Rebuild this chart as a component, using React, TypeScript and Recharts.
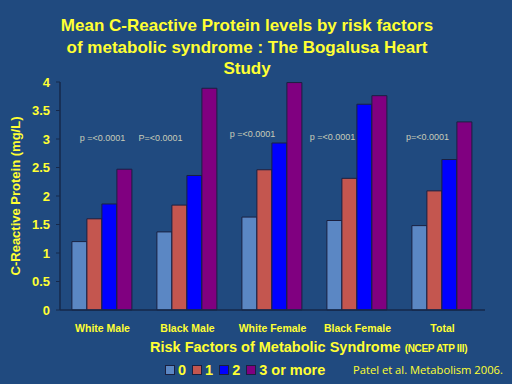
import { BarChart, Bar, XAxis, YAxis, ReferenceDot } from 'recharts'

const groups = ['White Male', 'Black Male', 'White Female', 'Black Female', 'Total']
const rf0 = [1.2, 1.37, 1.63, 1.57, 1.48]
const rf1 = [1.6, 1.84, 2.46, 2.31, 2.09]
const rf2 = [1.86, 2.36, 2.93, 3.61, 2.64]
const rf3 = [2.47, 3.89, 3.99, 3.76, 3.3]
const pText = ['p =<0.0001', 'P=<0.0001', 'p =<0.0001', 'p =<0.0001', 'p=<0.0001']
const pLevel = [3.02, 3.02, 3.09, 3.03, 3.03]
const yTicks = [0, 0.5, 1, 1.5, 2, 2.5, 3, 3.5, 4]
const seriesNames = ['0', '1', '2', '3 or more']

const colors = ['#5b87c4', '#c4564f', '#0000ff', '#800080']
const pShift = [0, -27, -20, -25, -15]
const BG = '#204a7f'
const YEL = '#ffff33'

const data = groups.map((g, i) => ({ group: g, r0: rf0[i], r1: rf1[i], r2: rf2[i], r3: rf3[i] }))

export default function App() {
  return (
    <div style={{ position: 'absolute', left: 0, top: 0, width: 512, height: 384, background: BG, fontFamily: 'Arial, "Liberation Sans", sans-serif', overflow: 'hidden' }}>
      <div style={{ position: 'absolute', left: 0, width: 494, top: 15, textAlign: 'center', color: YEL, fontWeight: 'bold', fontSize: 17, lineHeight: '21.5px' }}>
        Mean C-Reactive Protein levels by risk factors<br />of metabolic syndrome : The Bogalusa Heart<br />Study
      </div>
      <BarChart width={512} height={384} data={data} margin={{ top: 82, right: 27, left: 0, bottom: 44 }} barCategoryGap="14%" barGap={0}>
        <XAxis dataKey="group" height={30} axisLine={{ stroke: '#15284a', strokeWidth: 1.5 }} tickLine={false} tickMargin={9}
          tick={{ fill: YEL, fontSize: 10.5, fontWeight: 'bold' }} interval={0} />
        <YAxis domain={[0, 4]} ticks={yTicks} width={60} axisLine={{ stroke: '#15284a', strokeWidth: 1.5 }} tickLine={{ stroke: '#15284a' }}
          tickSize={4} tickMargin={6} tick={{ fill: YEL, fontSize: 13, fontWeight: 'bold' }}
          tickFormatter={(v: number) => String(v)}
          label={{ value: 'C-Reactive Protein (mg/L)', angle: -90, position: 'insideLeft', dx: 10, dy: 0, style: { fill: YEL, fontSize: 13, fontWeight: 'bold', textAnchor: 'middle' } }} />
        {(['r0', 'r1', 'r2', 'r3'] as const).map((k, i) => (
          <Bar key={k} dataKey={k} name={seriesNames[i]} fill={colors[i]} stroke="#1a2040" strokeWidth={1} isAnimationActive={false} />
        ))}
        {groups.map((g, i) => (
          <ReferenceDot key={g} x={g} y={pLevel[i]} r={0} stroke="none" fill="none" ifOverflow="visible"
            label={{ value: pText[i], position: 'center', dx: pShift[i], style: { fill: '#c8ccb8', fontSize: 9 } }} />
        ))}
      </BarChart>
      <div style={{ position: 'absolute', left: 150, top: 339, color: YEL, fontWeight: 'bold', fontSize: 14.5, whiteSpace: 'nowrap' }}>
        Risk Factors of Metabolic Syndrome <span style={{ fontSize: 10, letterSpacing: -0.3 }}>(NCEP ATP III)</span>
      </div>
      <div style={{ position: 'absolute', left: 165, top: 362, display: 'flex', alignItems: 'center', color: YEL, fontWeight: 'bold', fontSize: 14.5, whiteSpace: 'nowrap' }}>
        {seriesNames.map((n, i) => (
          <span key={n} style={{ display: 'flex', alignItems: 'center', marginRight: 6 }}>
            <span style={{ width: 8, height: 8, background: colors[i], border: '1px solid #1a2040', marginRight: 3, display: 'inline-block' }} />
            {n}
          </span>
        ))}
      </div>
      <div style={{ position: 'absolute', left: 353, top: 362, color: YEL, fontSize: 11.2, fontFamily: '"Open Sans", sans-serif', whiteSpace: 'nowrap' }}>
        Patel et al. Metabolism 2006.
      </div>
    </div>
  )
}
